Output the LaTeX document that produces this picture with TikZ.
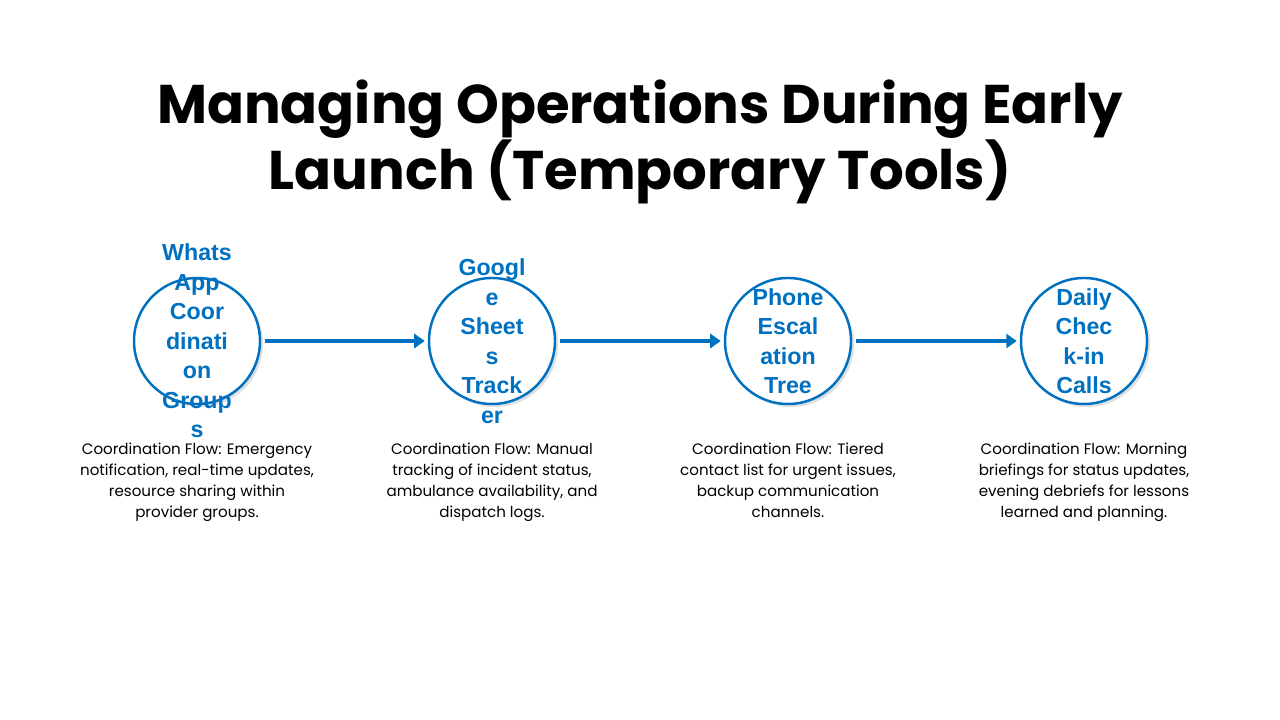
\documentclass[tikz,border=0pt]{standalone}
\usepackage{fontspec}
\setmainfont{Poppins}
\newfontfamily\labelfont{Liberation Sans}
\usetikzlibrary{positioning,shadows,arrows.meta}
\definecolor{toolblue}{HTML}{0070C0}
\begin{document}
\begin{tikzpicture}[
    tool/.style={circle, draw=toolblue, line width=0.7pt, fill=white, drop shadow={opacity=0.25, shadow xshift=0.03cm, shadow yshift=-0.03cm}, minimum size=1.26cm, inner sep=0pt},
    toolname/.style={text=toolblue, font=\labelfont\bfseries\fontsize{6.6}{8.4}\selectfont, align=center},
    flow/.style={-{Triangle[length=3pt,width=4pt]}, draw=toolblue, line width=1.1pt},
    note/.style={font=\fontsize{4.3}{5.9}\selectfont, align=center, anchor=north}
]
\useasboundingbox (0,0) rectangle (12.8,-7.2);

% Title
\node[font=\bfseries\fontsize{15.5}{18.8}\selectfont, align=center] (title) at (6.4,-1.42) {Managing Operations During Early\\Launch (Temporary Tools)};

% Tools
\node[tool] (whatsapp) at (1.97,-3.41) {};
\node[tool] (sheets) at (4.92,-3.41) {};
\node[tool] (phone) at (7.88,-3.41) {};
\node[tool] (daily) at (10.84,-3.41) {};

\node[toolname] at (whatsapp) {Whats\\App\\Coor\\dinati\\on\\Group\\s};
\node[toolname] at (sheets) {Googl\\e\\Sheet\\s\\Track\\er};
\node[toolname] at (phone) {Phone\\Escal\\ation\\Tree};
\node[toolname] at (daily) {Daily\\Chec\\k-in\\Calls};

% Connections
\path (whatsapp.east) ++(0.04,0) coordinate (a1) (sheets.west) ++(-0.03,0) coordinate (b1);
\path (sheets.east) ++(0.04,0) coordinate (a2) (phone.west) ++(-0.03,0) coordinate (b2);
\path (phone.east) ++(0.04,0) coordinate (a3) (daily.west) ++(-0.03,0) coordinate (b3);
\draw[flow] (a1) -- (b1);
\draw[flow] (a2) -- (b2);
\draw[flow] (a3) -- (b3);

% Notes
\node[note] (note1) at (1.97,-4.31) {Coordination Flow: Emergency\\notification, real-time updates,\\resource sharing within\\provider groups.};
\node[note] (note2) at (4.92,-4.31) {Coordination Flow: Manual\\tracking of incident status,\\ambulance availability, and\\dispatch logs.};
\node[note] (note3) at (7.88,-4.31) {Coordination Flow: Tiered\\contact list for urgent issues,\\backup communication\\channels.};
\node[note] (note4) at (10.84,-4.31) {Coordination Flow: Morning\\briefings for status updates,\\evening debriefs for lessons\\learned and planning.};
\end{tikzpicture}
\end{document}
